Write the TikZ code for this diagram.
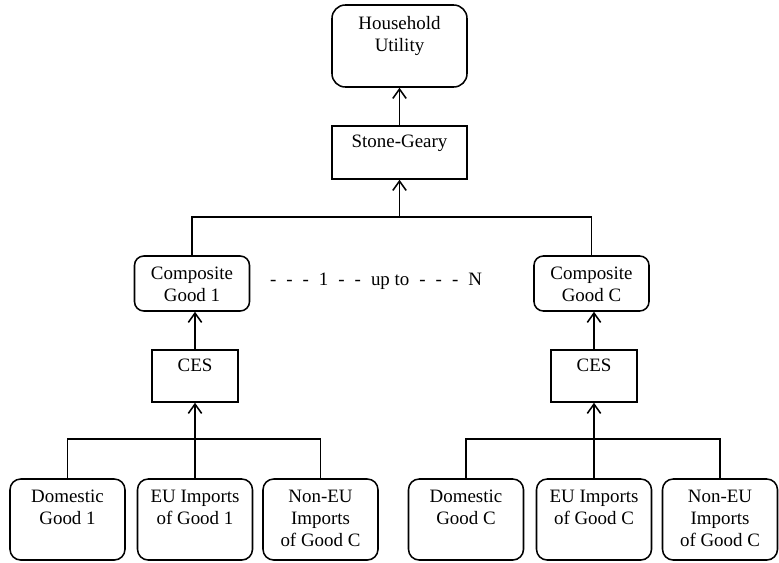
\documentclass[tikz,border=0pt]{standalone}
\usepackage{fontspec}
\setmainfont{Liberation Serif}
\usetikzlibrary{arrows.meta,positioning}

\newcommand{\gp}{\hspace{7.5pt}}

\begin{document}
\begin{tikzpicture}[x=0.75pt,y=-0.75pt,
    font=\fontsize{14.2}{16.5}\selectfont, line width=1.15pt,
    rbox/.style={draw, rounded corners=8pt, minimum width=86.25pt, minimum height=60.75pt},
    cbox/.style={draw, rounded corners=7pt, minimum width=86.25pt, minimum height=41.25pt},
    fbox/.style={draw, minimum width=64.5pt, minimum height=39pt},
    toplab/.style={anchor=north, align=center, inner sep=0pt, yshift=-8.4pt},
    flab/.style={anchor=north, align=center, inner sep=0pt, yshift=-6.8pt},
    arr/.style={-{Straight Barb[length=7pt,width=10pt]}}]
    \useasboundingbox (0,0) rectangle (779,562);

    % top of the tree
    \node[draw, rounded corners=10pt, minimum width=101.25pt, minimum height=61.5pt,
          label={[toplab]north:Household\\Utility}] (hu) at (399.5,46) {};
    \node[fbox, minimum width=101.25pt, minimum height=39.75pt,
          label={[flab]north:Stone-Geary}] (sg) at (399.5,152.5) {};
    \coordinate (jt) at (399.5,217);

    % composite goods
    \node[cbox, label={[toplab]north:Composite\\Good 1}] (cg1) at (192,283.5) {};
    \node[cbox, label={[toplab]north:Composite\\Good C}] (cgC) at (591.5,283.5) {};
    \node (dots) at (376,281) {-\gp-\gp-\gp1\gp-\gp-\gp up to\gp-\gp-\gp-\gp N};

    \node[fbox, label={[flab]north:CES}] (ces1) at (195,376) {};
    \node[fbox, label={[flab]north:CES}] (cesC) at (594,376) {};
    \coordinate (j1) at (195,439);
    \coordinate (jC) at (594,439);

    % sources of good 1
    \node[rbox, label={[toplab]north:Domestic\\Good 1}] (dom1) at (67.5,519.5) {};
    \node[rbox, label={[toplab]north:EU Imports\\of Good 1}] (eu1) at (195,519.5) {};
    \node[rbox, label={[toplab]north:Non-EU\\Imports\\of Good C}] (neu1) at (320.5,519.5) {};

    % sources of good C
    \node[rbox, label={[toplab]north:Domestic\\Good C}] (domC) at (466,519.5) {};
    \node[rbox, label={[toplab]north:EU Imports\\of Good C}] (euC) at (594,519.5) {};
    \node[rbox, label={[toplab]north:Non-EU\\Imports\\of Good C}] (neuC) at (720,519.5) {};

    \draw[arr] (sg) -- (hu);
    \draw (cg1.north) |- (jt) -| (cgC.north);
    \draw[arr] (jt) -- (sg);
    \draw[arr] (ces1.north) -- (ces1.north |- cg1.south);
    \draw[arr] (cesC.north) -- (cesC.north |- cgC.south);
    \draw (dom1.north) |- (j1) -| (neu1.north);
    \draw[arr] (eu1) -- (ces1);
    \draw (domC.north) |- (jC) -| (neuC.north);
    \draw[arr] (euC) -- (cesC);
\end{tikzpicture}
\end{document}
